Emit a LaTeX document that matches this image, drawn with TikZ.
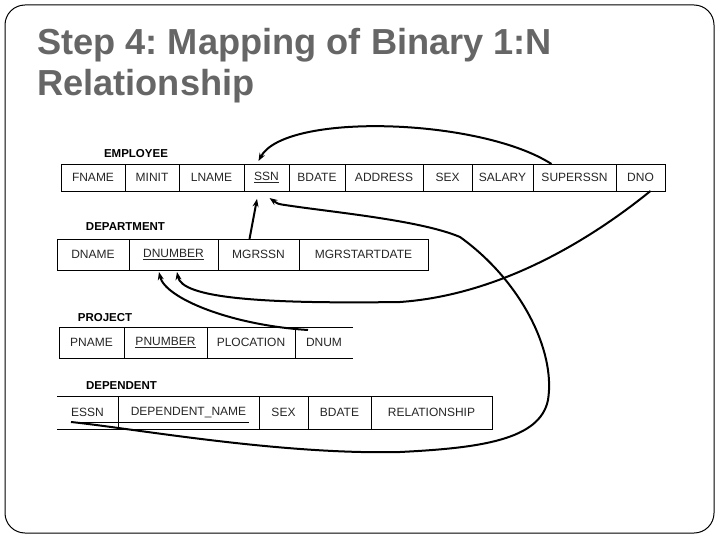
\documentclass[tikz,border=0pt]{standalone}
\usepackage{fontspec}
\setmainfont{Liberation Sans}
\usepackage{tikz}
\usetikzlibrary{arrows.meta}
\definecolor{titlegray}{HTML}{666666}
\frenchspacing

\begin{document}
\begin{tikzpicture}[x=1pt,y=-1pt,
	cell/.style={draw=black,line width=0.8pt,inner sep=0pt,outer sep=0pt,text=black!85,font=\fontsize{12}{12}\selectfont},
	cellopen/.style={cell,draw=none},
	tablename/.style={inner sep=0pt,font=\fontsize{11.5}{11.5}\selectfont\bfseries},
	titleline/.style={anchor=base west,inner sep=0pt,text=titlegray,font=\fontsize{36.2}{36.2}\selectfont\bfseries},
	fk/.style={line width=2pt,-{Stealth[length=8pt,width=6pt]}}]
	\useasboundingbox (0,0) rectangle (720,540);
	\draw[rounded corners=20pt,line width=1pt] (5,5) rectangle (714,533);

	\node[titleline] (title1) at (37,55) {Step 4: Mapping of Binary 1:N};
	\node[titleline] (title2) at (37,96) {Relationship};

	% EMPLOYEE
	\node[tablename] (lblemp) at (136,154) {EMPLOYEE};
	\node[cell,minimum width=64pt,minimum height=27pt] (fname) at (93,177.5) {FNAME};
	\node[cell,minimum width=54pt,minimum height=27pt] (minit) at (152,177.5) {MINIT};
	\node[cell,minimum width=65pt,minimum height=27pt] (lname) at (211.5,177.5) {LNAME};
	\node[cell,minimum width=45pt,minimum height=27pt] (ssn) at (266.5,177.5) {\underline{SSN}};
	\node[cell,minimum width=56pt,minimum height=27pt] (bdate) at (317,177.5) {BDATE};
	\node[cell,minimum width=78pt,minimum height=27pt] (address) at (384,177.5) {ADDRESS};
	\node[cell,minimum width=49pt,minimum height=27pt] (sex) at (447.5,177.5) {SEX};
	\node[cell,minimum width=61pt,minimum height=27pt] (salary) at (502.5,177.5) {SALARY};
	\node[cell,minimum width=83pt,minimum height=27pt] (superssn) at (574.5,177.5) {SUPERSSN};
	\node[cell,minimum width=49pt,minimum height=27pt] (dno) at (640.5,177.5) {DNO};

	% DEPARTMENT
	\node[tablename] (lbldept) at (125.5,227) {DEPARTMENT};
	\node[cell,minimum width=72pt,minimum height=31pt] (dname) at (93,254.5) {DNAME};
	\node[cell,minimum width=89pt,minimum height=31pt] (dnumber) at (173.5,254.5) {\underline{DNUMBER}};
	\node[cell,minimum width=81pt,minimum height=31pt] (mgrssn) at (258.5,254.5) {MGRSSN};
	\node[cell,minimum width=129pt,minimum height=31pt] (mgrstartdate) at (363.5,254.5) {MGRSTARTDATE};

	% PROJECT
	\node[tablename] (lblproj) at (105,318) {PROJECT};
	\node[cell,minimum width=65pt,minimum height=31pt] (pname) at (91.5,342.5) {PNAME};
	\node[cell,minimum width=83pt,minimum height=31pt] (pnumber) at (165.5,342.5) {\underline{PNUMBER}};
	\node[cell,minimum width=88pt,minimum height=31pt] (plocation) at (251,342.5) {PLOCATION};
	\node[cellopen,minimum width=58pt,minimum height=31pt] (dnum) at (324,342.5) {DNUM};
	\draw[line width=0.8pt] (dnum.north east) -- (dnum.north west) -- (dnum.south west) -- (dnum.south east);

	% DEPENDENT
	\node[tablename] (lbldep) at (121.5,386) {DEPENDENT};
	\node[cellopen,minimum width=61pt,minimum height=33pt] (essn) at (87.5,412.5) {ESSN};
	\draw[line width=0.8pt] (essn.north west) -- (essn.north east) -- (essn.south east) -- (essn.south west);
	\node[cell,minimum width=141pt,minimum height=33pt] (depname) at (188.5,412.5) {DEPENDENT\_NAME};
	\node[cell,minimum width=49pt,minimum height=33pt] (depsex) at (283.5,412.5) {SEX};
	\node[cell,minimum width=63pt,minimum height=33pt] (depbdate) at (339.5,412.5) {BDATE};
	\node[cell,minimum width=121pt,minimum height=33pt] (relationship) at (431.5,412.5) {RELATIONSHIP};
	\coordinate (essnkey) at (71,422);
	\draw[line width=0.6pt] (essnkey) -- (249,422);

	% foreign keys
	\draw[fk] ([xshift=-23pt]superssn.north) .. controls (480,118) and (285,112) .. ([xshift=-8pt,yshift=3pt]ssn.north);
	\draw[fk,shorten >=8pt] ([xshift=-9pt]mgrssn.north) -- ([xshift=-8pt]ssn.south);
	\draw[fk] (essnkey) .. controls (130,428) and (280,455) .. (400,452)
		.. controls (480,448) and (540,440) .. (548,400)
		.. controls (556,350) and (520,280) .. (460,237)
		.. controls (420,220) and (330,212) .. (285,205)
		.. controls (278,204) .. ([xshift=3pt,yshift=-7pt]ssn.south);
	\draw[fk] ([xshift=10pt]dno.south) .. controls (590,240) and (500,295) .. (400,302)
		.. controls (260,304) and (182,298) .. ([xshift=3.5pt,yshift=-2pt]dnumber.south);
	\draw[fk] ([xshift=-16pt,yshift=-3pt]dnum.north) .. controls (230,325) and (165,298) .. ([xshift=-14.5pt,yshift=-2pt]dnumber.south);

\end{tikzpicture}
\end{document}
